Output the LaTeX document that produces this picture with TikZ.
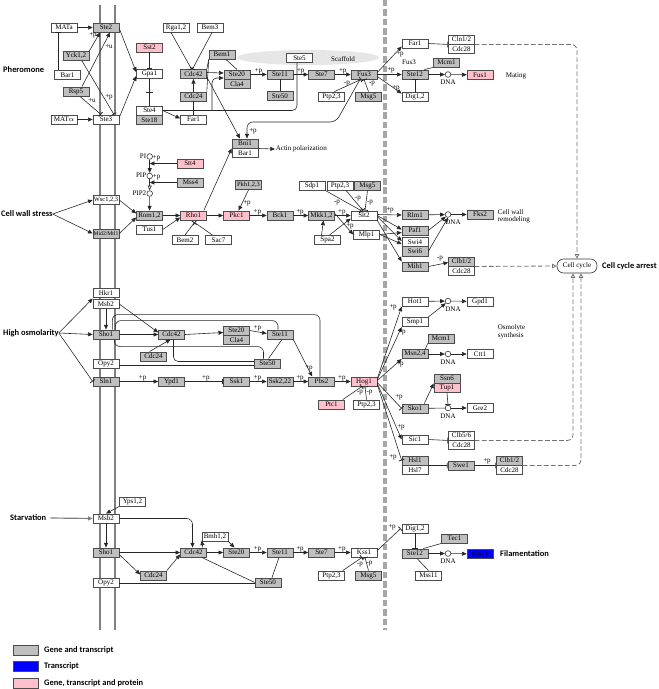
\documentclass[tikz,border=0pt]{standalone}
\usepackage{fontspec}
\setmainfont{Liberation Serif}
\newfontfamily\labfont{Carlito}
\usetikzlibrary{arrows.meta,calc}
\definecolor{kgray}{RGB}{191,191,191}
\definecolor{kpink}{RGB}{255,192,203}
\definecolor{kblue}{RGB}{0,0,255}
\definecolor{kscaf}{RGB}{230,230,230}
\begin{document}
\begin{tikzpicture}[x=0.03cm,y=-0.03cm,
 bx/.style={draw=black!70, line width=0.5pt, minimum width=0.78cm, minimum height=0.28cm, inner sep=0pt, font=\fontsize{6}{6}\selectfont},
 gb/.style={bx, fill=kgray},
 wb/.style={bx, fill=white},
 pb/.style={bx, fill=kpink},
 bb/.style={bx, fill=kblue},
 dna/.style={circle, draw=black!80, fill=white, line width=0.5pt, minimum size=0.17cm, inner sep=0pt},
 ed/.style={draw=black!85, line width=0.5pt},
 ar/.style={ed, -{Triangle[length=4pt,width=3.4pt]}},
 oar/.style={ed, -{Triangle[open,length=4pt,width=3.4pt]}},
 inh/.style={ed, -{Bar[width=5pt,line width=0.7pt]}},
 lbl/.style={font=\fontsize{6}{6.5}\selectfont, inner sep=0.5pt},
 big/.style={font=\labfont\bfseries\fontsize{7.2}{8}\selectfont, inner sep=0pt},
 kdash/.style={draw=black!55, line width=0.7pt, dash pattern=on 4pt off 2pt, rounded corners=5, -{Triangle[open,length=4pt,width=4pt]}},
 memb/.style={draw=black!50, line width=2pt},
 nuc/.style={draw=black!35, line width=3pt, dash pattern=on 5.5pt off 2.5pt},
 garr/.style={draw=black!50, line width=1pt, -{Triangle[length=4pt,width=3.4pt]}}
]
\useasboundingbox (0,0) rectangle (658,689);
% membrane and nucleus
\draw[memb] (100,5) -- (100,630);
\draw[memb] (115,5) -- (115,630);
\draw[nuc] (385,0) -- (385,630);
\fill[kscaf] (308,57.5) ellipse [x radius=2.13cm, y radius=0.225cm];

% ---------------- labels
\node[big, anchor=west] (Pher) at (3,70) {Pheromone};
\node[big, anchor=west] (CWS) at (1,214) {Cell wall stress};
\node[big, anchor=west] (HO) at (3,333) {High osmolarity};
\node[big, anchor=west] (Starv) at (10,518) {Starvation};
\node[big, anchor=west] (CCA) at (602,266) {Cell cycle arrest};
\node[big, anchor=west] (Fil) at (500,554) {Filamentation};
\node[lbl, anchor=west] (Mating) at (505,75.5) {Mating};
\node[lbl, anchor=west, align=left] (CWR) at (497,216.5) {Cell wall\\remodeling};
\node[lbl, anchor=west, align=left] (OS) at (497,332) {Osmolyte\\synthesis};
\node[lbl, anchor=west] (Actin) at (275,149) {Actin polarization};
\node[lbl] (Scaf) at (343,59) {Scaffold};
\node[lbl] (Fus3l) at (409,62) {Fus3};

% ---------------- pheromone nodes
\node[wb] (MATa) at (64,27.5) {MATa};
\node[wb] (MATal) at (64,119.5) {MAT$\alpha$};
\node[gb] (Ste2) at (106,27.5) {Ste2};
\node[wb] (Ste3) at (106,119.5) {Ste3};
\node[gb] (Yck) at (76,56) {Yck1,2};
\node[wb] (Bar1a) at (67.5,75) {Bar1};
\node[gb] (Rsp5) at (76,91.5) {Rsp5};
\node[pb] (Sst2) at (149.5,47.5) {Sst2};
\node[wb] (Gpa1) at (149.5,74) {Gpa1};
\node[wb] (Ste4) at (149.5,110.5) {Ste4};
\node[gb] (Ste18) at (149.5,119.8) {Ste18};
\node[wb] (Far1a) at (193.5,119.5) {Far1};
\node[gb] (Cdc42a) at (193.5,74) {Cdc42};
\node[gb] (Cdc24a) at (193.5,96.5) {Cdc24};
\node[wb] (Rga) at (176,27.5) {Rga1,2};
\node[wb] (Bem3) at (210,27.5) {Bem3};
\node[gb] (Bem1) at (222,54.5) {Bem1};
\node[gb] (Ste20a) at (237,74.5) {Ste20};
\node[gb] (Cla4a) at (237,83.8) {Cla4};
\node[gb] (Ste11a) at (280,74.5) {Ste11};
\node[gb] (Ste50a) at (280,96) {Ste50};
\node[wb] (Ste5) at (299.5,58) {Ste5};
\node[gb] (Ste7a) at (321.5,74.5) {Ste7};
\node[gb] (Fus3) at (364,74.5) {Fus3};
\node[wb] (Ptp23a) at (331.5,96.5) {Ptp2,3};
\node[gb] (Msg5a) at (368.5,96.5) {Msg5};
\node[gb] (Bni1) at (245,143.5) {Bni1};
\node[wb] (Bar1b) at (245,152.8) {Bar1};
\node[wb] (Far1b) at (415,43.5) {Far1};
\node[wb] (Cln12) at (461.5,39.5) {Cln1/2};
\node[wb] (Cdc28a) at (461.5,48.8) {Cdc28};
\node[gb] (Ste12a) at (415,74.5) {Ste12};
\node[gb] (Mcm1a) at (446.5,62.5) {Mcm1};
\node[dna] (DNAa) at (448,74.5) {};
\node[lbl] (DNAal) at (448,82.5) {DNA};
\node[pb] (Fus1) at (480,75) {Fus1};
\node[wb] (Dig12a) at (415,96.5) {Dig1,2};

% ---------------- cell wall nodes
\node[pb] (Stt4) at (190,163.5) {Stt4};
\node[gb] (Mss4) at (190.5,182.5) {Mss4};
\node[dna] (PI) at (149.7,156.5) {};
\node[dna] (PIP) at (149.7,176) {};
\node[dna] (PIP2) at (149.7,193.5) {};
\node[lbl, anchor=east] (PIl) at (147,156) {PI};
\node[lbl, anchor=east] (PIPl) at (147,175.5) {PIP};
\node[lbl, anchor=east] (PIP2l) at (147,193) {PIP2};
\node[wb, font=\fontsize{5.5}{5.5}\selectfont] (Wsc) at (106,200) {Wsc1,2,3};
\node[gb, font=\fontsize{4.8}{4.8}\selectfont] (Mid2) at (106,233.5) {Mid2/Mtl1};
\node[gb] (Rom12) at (149.5,215.5) {Rom1,2};
\node[wb] (Tus1) at (149.5,229.5) {Tus1};
\node[pb] (Rho1) at (193.5,215.5) {Rho1};
\node[wb] (Bem2) at (185,240) {Bem2};
\node[wb] (Sac7) at (218.5,240) {Sac7};
\node[gb, font=\fontsize{5.5}{5.5}\selectfont] (Pkh) at (248.5,185) {Pkh1,2,3};
\node[pb] (Pkc1) at (236.5,215.5) {Pkc1};
\node[gb] (Bck1) at (280,215.5) {Bck1};
\node[gb] (Mkk12) at (321.5,215.5) {Mkk1,2};
\node[wb] (Spa2) at (327.5,240) {Spa2};
\node[wb] (Sdp1) at (312,185.5) {Sdp1};
\node[wb] (Ptp23b) at (340,185.5) {Ptp2,3};
\node[gb] (Msg5b) at (367.5,185.5) {Msg5};
\node[wb] (Slt2) at (364,215.5) {Slt2};
\node[wb] (Mlp1) at (366.5,234.5) {Mlp1};
\node[gb] (Rlm1) at (415,215) {Rlm1};
\node[gb] (Paf1) at (415,230.5) {Paf1};
\node[wb] (Swi4) at (415,242) {Swi4};
\node[gb] (Swi6) at (415,251.3) {Swi6};
\node[gb] (Mih1) at (415,266.5) {Mih1};
\node[dna] (DNAb) at (448,214.5) {};
\node[lbl] (DNAbl) at (453,222.5) {DNA};
\node[gb] (Fks2) at (480,214.5) {Fks2};
\node[gb] (Clb12b) at (461.5,261.5) {Clb1/2};
\node[wb] (Cdc28b) at (461.5,270.8) {Cdc28};
\node[draw=black!80, line width=0.5pt, fill=white, rounded corners=0.2cm, minimum width=1.2cm, minimum height=0.42cm, inner sep=0pt, font=\fontsize{6}{6}\selectfont] (CellCycle) at (577,266) {Cell cycle};

% ---------------- osmolarity nodes
\node[wb] (Hkr1) at (106,293) {Hkr1};
\node[wb] (Msb2c) at (106,304) {Msb2};
\node[gb] (Sho1c) at (106,334.5) {Sho1};
\node[wb] (Opy2c) at (106,363.5) {Opy2};
\node[gb] (Sln1) at (106,381.5) {Sln1};
\node[gb] (Cdc42c) at (171.5,334.5) {Cdc42};
\node[gb] (Cdc24c) at (153.5,356.5) {Cdc24};
\node[gb] (Ypd1) at (171.5,381.5) {Ypd1};
\node[gb] (Ste20c) at (236.5,330.5) {Ste20};
\node[gb] (Cla4c) at (236.5,339.8) {Cla4};
\node[gb] (Ste11c) at (280,334.5) {Ste11};
\node[gb] (Ste50c) at (267.5,363.5) {Ste50};
\node[gb] (Ssk1) at (236.5,381.5) {Ssk1};
\node[gb] (Ssk2) at (280,381.5) {Ssk2,22};
\node[gb] (Pbs2) at (321.5,381.5) {Pbs2};
\node[pb] (Hog1) at (364,381.5) {Hog1};
\node[pb] (Ptc1) at (331.5,404.5) {Ptc1};
\node[wb] (Ptp23c) at (366.5,404.5) {Ptp2,3};
\node[wb] (Hot1) at (415,301.5) {Hot1};
\node[dna] (DNAc1) at (448,301) {};
\node[lbl] (DNAc1l) at (453,309.5) {DNA};
\node[wb] (Gpd1) at (480,301.5) {Gpd1};
\node[wb] (Smp1) at (415,322) {Smp1};
\node[gb] (Mcm1c) at (441,338.5) {Mcm1};
\node[gb] (Msn24) at (415,354) {Msn2,4};
\node[dna] (DNAc2) at (448,354) {};
\node[lbl] (DNAc2l) at (448,362) {DNA};
\node[wb] (Ctt1) at (480,354) {Ctt1};
\node[gb] (Ssn6) at (447,378.5) {Ssn6};
\node[pb] (Tup1) at (447,387.8) {Tup1};
\node[gb] (Sko1r) at (415,408.5) {Sko1};
\node[dna] (DNAc3) at (448,408) {};
\node[lbl] (DNAc3l) at (448,416) {DNA};
\node[wb] (Gre2) at (480,408) {Gre2};
\node[wb] (Sic1) at (415,439.5) {Sic1};
\node[wb] (Clb56) at (461.5,435.5) {Clb5/6};
\node[wb] (Cdc28c) at (461.5,444.8) {Cdc28};
\node[gb] (Hsl1) at (415,460.5) {Hsl1};
\node[wb] (Hsl7) at (415,469.8) {Hsl7};
\node[gb] (Swe1) at (461,465.5) {Swe1};
\node[gb] (Clb12c) at (509.5,460.5) {Clb1/2};
\node[wb] (Cdc28d) at (509.5,469.8) {Cdc28};

% ---------------- starvation nodes
\node[wb] (Yps) at (132.5,501.5) {Yps1,2};
\node[wb] (Msb2d) at (106,518.5) {Msb2};
\node[gb] (Sho1d) at (106,552.5) {Sho1};
\node[wb] (Opy2d) at (106,583) {Opy2};
\node[gb] (Cdc42d) at (193.5,552.5) {Cdc42};
\node[gb] (Cdc24d) at (153.5,575.5) {Cdc24};
\node[wb] (Bmh) at (215,536.5) {Bmh1,2};
\node[gb] (Ste20d) at (236.5,552.5) {Ste20};
\node[gb] (Ste11d) at (280,552.5) {Ste11};
\node[gb] (Ste7d) at (321.5,552.5) {Ste7};
\node[wb] (Kss1) at (364,552.5) {Kss1};
\node[gb] (Ste50d) at (268,582.5) {Ste50};
\node[wb] (Ptp23d) at (331.5,575.5) {Ptp2,3};
\node[gb] (Msg5d) at (368.5,575.5) {Msg5};
\node[wb] (Dig12d) at (415,528.5) {Dig1,2};
\node[gb] (Tec1) at (454.5,538.5) {Tec1};
\node[gb] (Ste12d) at (415,553.5) {Ste12};
\node[dna] (DNAd) at (448,553.5) {};
\node[lbl] (DNAdl) at (448,561.5) {DNA};
\node[bb] (Flo11) at (480,554) {Flo11};
\node[wb] (Mss11) at (428.5,575.5) {Mss11};

% ---------------- legend
\node[gb, minimum width=0.75cm, minimum height=0.3cm] (Lg1) at (25.5,650) {};
\node[bb, minimum width=0.75cm, minimum height=0.3cm] (Lg2) at (25.5,666) {};
\node[pb, minimum width=0.75cm, minimum height=0.3cm] (Lg3) at (25.5,683) {};
\node[big, anchor=west] (Lt1) at (44,650) {Gene and transcript};
\node[big, anchor=west] (Lt2) at (44,666) {Transcript};
\node[big, anchor=west] (Lt3) at (44,683) {Gene, transcript and protein};

% ================= edges: pheromone
\draw[ar] (MATa) -- (Ste2);
\draw[ar] (MATal) -- (Ste3);
\draw[inh] ($(Bar1a.north)+(-9.5,0)$) -- ($(MATa.south)+(-6,0)$);
\draw[ar] ($(Ste2.east)+(0,1)$) -- ($(Gpa1.west)+(0,-2)$);
\draw[ar] ($(Ste3.east)+(0,-2)$) -- ($(Gpa1.west)+(0,2)$);
\draw[ar] (Yck.north east) -- ($(Ste2.south)+(-6,0)$);
\draw[ar] ($(Rsp5.north)+(6,0)$) -- ($(Ste2.south)+(4,0)$);
\draw[inh] ($(Yck.south)+(6,0)$) -- ($(Ste3.north)+(8,0)$);
\draw[inh] ($(Rsp5.south)+(4,0)$) -- ($(Ste3.north)+(-5,0)$);
\node[lbl] (pa1) at (93,35) {+p};
\node[lbl] (pa2) at (109,47) {+u};
\node[lbl] (pa3) at (109,97) {+p};
\node[lbl] (pa4) at (92,101) {+u};
\draw[inh] (Sst2) -- (Gpa1);
\draw[ed] (Gpa1) -- (Ste4) coordinate[midway] (gm);
\draw[ed] ($(gm)+(-3.5,0)$) -- ($(gm)+(3.5,0)$);
\draw[ar] (Ste4.east) -- ($(Far1a.west)+(0,-1)$);
\draw[ed] (Far1a) -- (Cdc24a);
\draw[ar] (Cdc24a) -- (Cdc42a);
\draw[inh] ($(Rga.south)+(-5,0)$) -- ($(Cdc42a.north)+(-2,0)$);
\draw[inh] ($(Bem3.south)+(2,0)$) -- ($(Cdc42a.north)+(-1,0)$);
\draw[ed] (Bem1.south west) -- (Cdc42a.north east);
\draw[ed] (Bem1.south west) -- (Cdc24a.north east);
\draw[ed] ($(Bem1.south)+(4,0)$) -- (Ste20a.north);
\draw[ar] ($(Cdc42a.east)+(0,-1.5)$) -- ($(Ste20a.west)+(0,-1.5)$);
\draw[ed, rounded corners=4] (Ste4.east) -| ($(Ste5.south)+(-2.5,0)$);
\coordinate (j1) at (212,110.5);
\draw[ar, rounded corners=4] (j1) |- ($(Ste20a.west)+(0,3.5)$);
\draw[ar] ($(Cdc42a.east)+(0,3)$) -- ($(Bni1.north)+(-5,0)$);
\draw[ar] (Ste20a) -- node[lbl, above=-0.5pt, pos=0.5] {+p} (Ste11a);
\draw[ar] (Ste11a) -- node[lbl, above=-0.5pt, pos=0.5] {+p} (Ste7a);
\draw[ar] (Ste7a) -- node[lbl, above=-0.5pt, pos=0.5] {+p} (Fus3);
\draw[ed] (Ste11a) -- (Ste50a);
\draw[inh] ($(Ptp23a.north)+(3,0)$) -- ($(Fus3.south)+(-3,0)$);
\draw[inh] (Msg5a.north) -- ($(Fus3.south)+(0,0)$);
\node[lbl] (pa6) at (347,84) {-p};
\node[lbl] (pa7) at (372,84) {-p};
\coordinate (fb1) at (336,122);
\coordinate (fb2) at (247,122);
\draw[ar, rounded corners=5] ($(Fus3.south)+(-4,0)$) -- (fb1) -- (fb2) -- ($(Bni1.north)+(2,0)$);
\node[lbl] (pa5) at (253,131) {+p};
\draw[ar] ($(Fus3.east)+(0,-2)$) -- ($(Far1b.south west)+(0,-2)$);
\draw[ar] (Fus3) -- (Ste12a);
\draw[ar] ($(Fus3.east)+(0,2)$) -- ($(Dig12a.north west)+(0,2)$);
\node[lbl] (pa8) at (400,54) {+p};
\node[lbl] (pa9) at (391,70) {+p};
\node[lbl] (pa10) at (396,88) {+p};
\draw[ar] ($(Bni1.east)+(0,5)$) -- (Actin.west);
\draw[inh] (Far1b.east) -- (Cln12.south west);
\draw[ar] (Ste12a) -- (DNAa);
\draw[ar] (DNAa) -- (Fus1);
\draw[ed] (Mcm1a.south west) -- ($(Ste12a.north east)+(-4,0)$);
\draw[inh] (Dig12a) -- (Ste12a);
\draw[kdash] ($(Cln12.south east)$) -| (CellCycle.north);

% ================= edges: cell wall
\draw[ar] (CWS.east) -- (Wsc.west);
\draw[ar] (CWS.east) -- (Mid2.west);
\draw[ar] (Wsc.east) -- ($(Rom12.west)+(0,-2)$);
\draw[ar] (Mid2.east) -- ($(Rom12.west)+(0,2)$);
\draw[ar] (PI) -- (PIP);
\draw[oar] (PIP) -- (PIP2);
\draw[ar] (PIP2) -- (Rom12);
\draw[ar] (Stt4.west) -- (PI.south |- Stt4.west) node[lbl, above=1pt, pos=0.75] {+p};
\draw[ar] (Mss4.west) -- (PIP.south |- Mss4.west) node[lbl, above=1pt, pos=0.75] {+p};
\draw[ar] (Rom12) -- (Rho1);
\draw[ar] (Tus1.east) -- ($(Rho1.west)+(0,2)$);
\draw[inh] (Bem2.north) -- ($(Rho1.south)+(1,2)$);
\draw[inh] ($(Sac7.north)+(-6,0)$) -- ($(Rho1.south)+(1,2)$);
\draw[ar] (Rho1) -- (Pkc1);
\draw[ar] ($(Rho1.north east)+(-3,0)$) -- (Bni1.south west);
\draw[ar] (Pkh.south) -- ($(Pkc1.north)+(2,0)$);
\node[lbl] (pb3) at (247,203) {+p};
\draw[ar] (Pkc1) -- node[lbl, above=-0.5pt, pos=0.45] {+p} (Bck1);
\draw[ar] (Bck1) -- node[lbl, above=-0.5pt, pos=0.45] {+p} (Mkk12);
\draw[ar] (Mkk12) -- node[lbl, above=-0.5pt, pos=0.45] {+p} (Slt2);
\draw[ar] ($(Mkk12.east)+(0,-2)$) -- (Mlp1.west);
\node[lbl] (pb4) at (350,226) {+p};
\draw[ar] ($(Spa2.north)+(-6,0)$) -- ($(Mkk12.south)+(2,0)$);
\draw[ar] ($(Spa2.north)+(2,0)$) -- ($(Slt2.west)+(0,3)$);
\draw[inh] (Sdp1.south east) -- ($(Slt2.north)+(-3,0)$);
\draw[inh] ($(Ptp23b.south)+(6,0)$) -- ($(Slt2.north)+(-1,0)$);
\draw[inh] (Msg5b.south) -- ($(Slt2.north)+(1,0)$);
\node[lbl] (pb5) at (337,203) {-p};
\node[lbl] (pb6) at (358,199) {-p};
\node[lbl] (pb7) at (370,203) {-p};
\draw[ar] ($(Slt2.east)+(0,-1)$) -- (Rlm1.west);
\node[lbl] (pb8) at (390,210) {+p};
\draw[ar] (Slt2.east) -- ($(Paf1.west)+(0,-1)$);
\draw[ar] ($(Slt2.east)+(0,1)$) -- ($(Swi4.west)+(0,-1)$);
\draw[ar] (Slt2.south east) -- (Mih1.north west);
\draw[ar] (Mlp1.east) -- ($(Paf1.west)+(0,2)$);
\draw[ar] (Mlp1.east) -- ($(Swi4.west)+(0,2)$);
\draw[ar] (Rlm1) -- (DNAb);
\draw[ar] (DNAb) -- (Fks2);
\draw[ar] (Paf1.east) -- (DNAb.south west);
\draw[ar] (Swi6.east) -- (DNAb.south);
\draw[ar] (Mih1.east) -- ($(Clb12b.west)+(0,1)$);
\node[lbl] (pb9) at (440,258.5) {-p};
\draw[kdash] (Clb12b.south east) -- (CellCycle.west);

% ================= edges: high osmolarity
\draw[ar] (HO.east) -- ($(Hkr1.south west)!0.5!(Msb2c.north west)$);
\draw[ar] (HO.east) -- (Sho1c.west);
\draw[inh] (HO.east) -- (Sln1.west);
\draw[ar] (Msb2c) -- (Sho1c);
\draw[ar] (Msb2c.east) -- ($(Cdc42c.west)+(0,-2)$);
\draw[ar] (Sho1c) -- (Cdc42c);
\draw[ar] ($(Cdc24c.north)+(-4,0)$) -- ($(Cdc42c.south)+(-1,0)$);
\draw[ar] (Cdc42c.east) -- ($(Ste20c.west)+(0,2)$);
\draw[ar] (Ste20c.east) -- node[lbl, above=0pt, pos=0.45] {+p} ($(Ste11c.west)+(0,-1)$);
\draw[ed, rounded corners=5] ($(Sho1c.north east)+(-7,0)$) |- ($(Pbs2.north)+(-1.5,-62)$) -- ($(Pbs2.north)+(-1.5,0)$);
\draw[ed, rounded corners=5] ($(Sho1c.north east)+(-4,0)$) |- ($(Ste11c.north)+(-2,-9)$) -- ($(Ste11c.north)+(-2,0)$);
\draw[ed, rounded corners=5] ($(Sho1c.south east)+(-5,0)$) |- ($(Ste50c.north)+(-4,-12)$) -- ($(Ste50c.north)+(-4,0)$);
\draw[ed, rounded corners=4] ($(Cdc42c.south)+(2,0)$) |- ($(Ste50c.west)+(0,-2)$);
\draw[ed] ($(Opy2c.east)+(0,2)$) -- ($(Ste50c.west)+(0,2)$);
\draw[ed] ($(Ste11c.south)+(2,0)$) -- ($(Ste50c.north)+(1,0)$);
\draw[ar] (Ste11c.south east) -- ($(Pbs2.north west)+(4,0)$);
\node[lbl] (pc1) at (309,368) {+p};
\draw[ar] (Sln1) -- node[lbl, above=-0.5pt, pos=0.6] {+p} (Ypd1);
\draw[inh] (Ypd1) -- node[lbl, above=-0.5pt, pos=0.55] {+p} (Ssk1);
\draw[ar] (Ssk1) -- node[lbl, above=-0.5pt, pos=0.45] {+p} (Ssk2);
\draw[ar] (Ssk2) -- node[lbl, above=-0.5pt, pos=0.45] {+p} (Pbs2);
\draw[ar] (Pbs2) -- node[lbl, above=-0.5pt, pos=0.45] {+p} (Hog1);
\draw[inh] ($(Ptc1.north east)+(-2,0)$) -- ($(Hog1.south)+(-2,0)$);
\draw[inh] (Ptp23c.north) -- ($(Hog1.south)+(1,0)$);
\node[lbl] (pc2) at (360,392.5) {-p};
\node[lbl] (pc3) at (369.5,392.5) {-p};
\draw[ar] ($(Hog1.east)+(0,-3)$) -- (Hot1.south west);
\draw[ar] ($(Hog1.east)+(0,-2)$) -- (Smp1.south west);
\draw[ar] ($(Hog1.east)+(0,-1)$) -- (Msn24.south west);
\draw[inh] ($(Hog1.east)+(0,1)$) -- (Sko1r.west);
\draw[ar] ($(Hog1.east)+(0,2)$) -- (Sic1.west);
\draw[inh] ($(Hog1.east)+(0,3)$) -- (Hsl1.west);
\node[lbl] (pc4) at (393,307) {+p};
\node[lbl] (pc5) at (402,332) {+p};
\node[lbl] (pc6) at (400,364) {+p};
\node[lbl] (pc7) at (399,397) {+p};
\node[lbl] (pc8) at (401,427) {+p};
\node[lbl] (pc9) at (393,457) {+p};
\draw[ar] (Hot1) -- (DNAc1);
\draw[ar] (DNAc1) -- (Gpd1);
\draw[ar] (Smp1.north east) -- (DNAc1.south west);
\draw[ed] (Mcm1c.south west) -- ($(Msn24.north east)+(-3,0)$);
\draw[ar] (Msn24) -- (DNAc2);
\draw[ar] (DNAc2) -- (Ctt1);
\draw[ar] ($(Sko1r.north east)+(-4,0)$) -- (Ssn6.south west);
\draw[ed] (Sko1r) -- (DNAc3);
\draw[inh] (Tup1.south) -- (DNAc3.north);
\draw[ar] (DNAc3) -- (Gre2);
\draw[inh] (Sic1.east) -- (Clb56.south west);
\draw[kdash] (Clb56.south east) -| ($(CellCycle.south)+(-4,0)$);
\draw[inh] (Hsl1.south east) -- (Swe1.west);
\draw[inh] (Swe1.east) -- (Clb12c.south west);
\node[lbl] (pc10) at (487,461) {+p};
\draw[kdash] (Clb12c.south east) -| ($(CellCycle.south)+(4,0)$);

% ================= edges: starvation
\draw[garr] (Starv.east) ++(4,0) -- (Msb2d.west);
\draw[ar] (Yps.south west) -- (Msb2d.north);
\draw[ar] (Msb2d) -- (Sho1d);
\draw[ar, rounded corners=5] (Msb2d.east) -| ($(Cdc42d.north)+(-1,0)$);
\draw[ar] (Sho1d) -- (Cdc42d);
\draw[ar] ($(Sho1d.east)+(0,2)$) -- ($(Cdc24d.west)+(0,-1)$);
\draw[ar] (Cdc24d.north east) -- ($(Cdc42d.west)+(0,2)$);
\draw[ar] ($(Cdc42d.north east)+(-4,0)$) -- ($(Bmh.south west)+(0,-1)$);
\draw[ar] (Bmh.south east) -- ($(Ste20d.north)+(-2,0)$);
\draw[ar] (Cdc42d) -- (Ste20d);
\draw[ed] ($(Cdc42d.south east)+(-5,0)$) -- (Ste50d.west);
\draw[ed] (Opy2d.east) -- (Opy2d.east -| Ste50d.west);
\draw[ar] (Ste20d) -- node[lbl, above=-0.5pt, pos=0.45] {+p} (Ste11d);
\draw[ar] (Ste11d) -- node[lbl, above=-0.5pt, pos=0.45] {+p} (Ste7d);
\draw[ar] (Ste7d) -- node[lbl, above=-0.5pt, pos=0.45] {+p} (Kss1);
\draw[ed] ($(Ste11d.south)+(-1,0)$) -- ($(Ste50d.north)+(4,0)$);
\draw[inh] ($(Ptp23d.north east)+(-2,0)$) -- ($(Kss1.south)+(-2,0)$);
\draw[inh] (Msg5d.north) -- ($(Kss1.south)+(1,0)$);
\node[lbl] (pd1) at (360,565) {-p};
\node[lbl] (pd2) at (369.5,564) {-p};
\draw[inh] ($(Kss1.east)+(0,-2)$) -- ($(Dig12d.west)+(-1,0)$);
\node[lbl] (pd3) at (392,527) {+p};
\draw[inh] (Dig12d) -- (Ste12d);
\draw[ed] (Tec1.south west) -- ($(Ste12d.north east)+(-5,0)$);
\draw[ed] (Mss11.north) -- ($(Ste12d.south)+(2,0)$);
\draw[ar] (Ste12d) -- (DNAd);
\draw[ar] (DNAd) -- (Flo11);
\end{tikzpicture}
\end{document}
